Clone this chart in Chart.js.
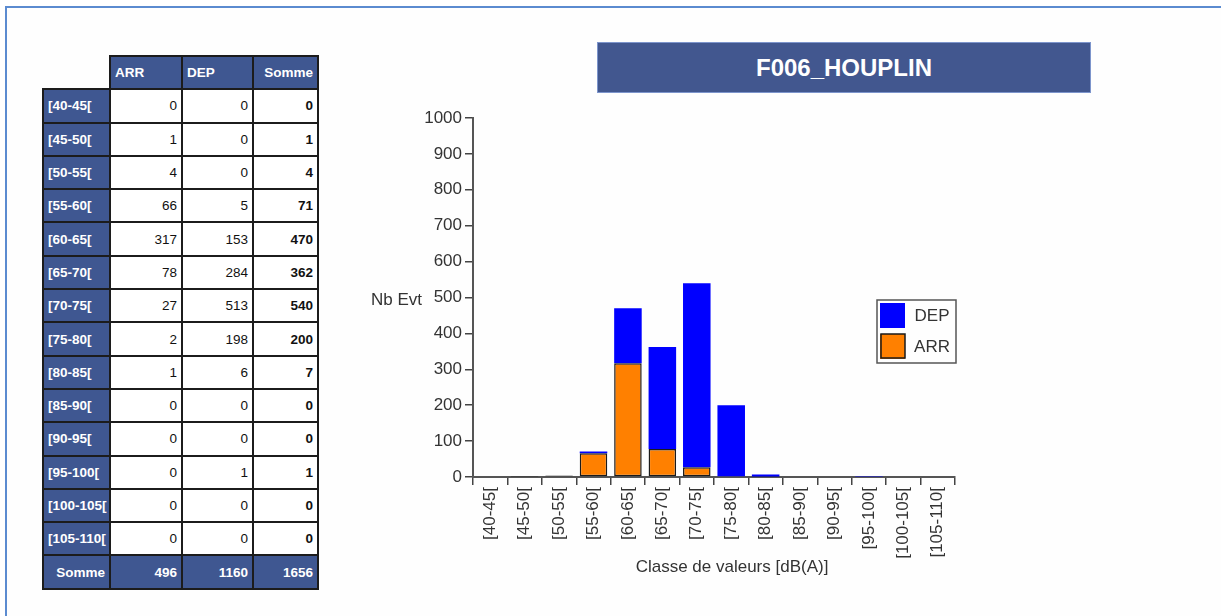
<!DOCTYPE html>
<html>
<head>
<meta charset="utf-8">
<title>F006_HOUPLIN</title>
<script src="https://cdn.jsdelivr.net/npm/chart.js@4/dist/chart.umd.min.js"></script>
<style>
    html, body { margin: 0; padding: 0; width: 1221px; height: 616px; overflow: hidden; background: #fff;
        font-family: 'Liberation Sans', Arial, sans-serif; }
    .frame { position: absolute; left: 5px; top: 6px; width: 1240px; height: 640px;
        border-top: 2px solid #5b8bd0; border-left: 2px solid #5b8bd0; background: #fefefe; }
    #stats { position: absolute; left: 42px; top: 55px; width: 275px;
        border-collapse: collapse; table-layout: fixed; font-size: 13.5px; }
    #stats tr { height: 33.3px; }
    #stats td, #stats th { border: 2px solid #1c1c1c; padding: 0 4px; white-space: nowrap; }
    #stats th { background: #3f5791; color: #fff; font-weight: bold; text-align: left; }
    #stats th.num { text-align: right; }
    #stats td { background: #fff; color: #111; text-align: right; }
    #stats td.sum { font-weight: bold; }
    #stats th.corner { background: transparent; border: none; }
    .title-box { position: absolute; left: 597px; top: 42px; width: 492px; height: 49px;
        background: #42578f; border: 1px solid #7d95cc; color: #fff; font-weight: bold;
        font-size: 24px; text-align: center; line-height: 49px; }
    .chart-wrap { position: absolute; left: 360px; top: 100px; width: 640px; height: 500px; }
</style>
</head>
<body>
<div class="frame"></div>
<table id="stats">
    <colgroup><col style="width:67px"><col style="width:72px"><col style="width:71px"><col style="width:65px"></colgroup>
    <thead><tr><th class="corner"></th><th>ARR</th><th>DEP</th><th class="num">Somme</th></tr></thead>
    <tbody></tbody>
</table>
<div class="title-box">F006_HOUPLIN</div>
<div class="chart-wrap"><canvas id="histo" width="640" height="500"></canvas></div>

<script>
// Classes de bruit et nombre d'evenements par type
const classes = ['[40-45[', '[45-50[', '[50-55[', '[55-60[', '[60-65[', '[65-70[', '[70-75[',
    '[75-80[', '[80-85[', '[85-90[', '[90-95[', '[95-100[', '[100-105[', '[105-110['];
const arr = [0, 1, 4, 66, 317, 78, 27, 2, 1, 0, 0, 0, 0, 0];
const dep = [0, 0, 0, 5, 153, 284, 513, 198, 6, 0, 0, 1, 0, 0];

const xTitle = 'Classe de valeurs [dB(A)]';
const yTitle = 'Nb Evt';

// Remplissage du tableau
let rowsHtml = '';
classes.forEach(function (c, i) {
    rowsHtml += `<tr><th>${c}</th><td>${arr[i]}</td><td>${dep[i]}</td><td class="sum">${arr[i] + dep[i]}</td></tr>`;
});
const totArr = arr.reduce((a, b) => a + b, 0);
const totDep = dep.reduce((a, b) => a + b, 0);
rowsHtml += `<tr><th class="num">Somme</th><th class="num">${totArr}</th><th class="num">${totDep}</th><th class="num">${totArr + totDep}</th></tr>`;
document.querySelector('#stats tbody').innerHTML = rowsHtml;

const FONT = '"Liberation Sans", Arial, sans-serif';

// Titres d'axes et legende encadree
const extras = {
    id: 'extras',
    afterDraw(chart) {
        const ctx = chart.ctx;
        const a = chart.chartArea;
        ctx.save();
        ctx.font = '17px ' + FONT;
        ctx.fillStyle = '#333';
        ctx.textBaseline = 'middle';
        ctx.textAlign = 'left';
        ctx.fillText(yTitle, 11, (a.top + a.bottom) / 2 + 3);
        ctx.textAlign = 'center';
        ctx.fillText(xTitle, (a.left + a.right) / 2 + 18, 467);

        const bw = 79, bh = 63;
        const bx = a.right - bw + 1, by = a.top + 182;
        ctx.strokeStyle = '#555';
        ctx.lineWidth = 1.5;
        ctx.strokeRect(bx, by, bw, bh);
        chart.data.datasets.slice().reverse().forEach(function (d, i) {
            const y = by + 3 + i * 31;
            ctx.fillStyle = d.backgroundColor;
            ctx.fillRect(bx + 3, y, 25, 25);
            if (d.borderWidth) {
                ctx.strokeStyle = d.borderColor;
                ctx.lineWidth = 1.5;
                ctx.strokeRect(bx + 4, y, 24, 24);
            }
            ctx.fillStyle = '#333';
            ctx.textAlign = 'center';
            ctx.fillText(d.label, bx + 55, y + 13);
        });
        ctx.restore();
    }
};

new Chart(document.getElementById('histo'), {
    type: 'bar',
    data: {
        labels: classes,
        datasets: [{
            label: 'ARR',
            data: arr,
            backgroundColor: '#ff8000',
            borderColor: '#1a1a1a',
            borderWidth: 1.5,
            borderSkipped: false
        }, {
            label: 'DEP',
            data: dep,
            backgroundColor: '#0000ff',
            borderWidth: 0
        }]
    },
    options: {
        responsive: false,
        animation: false,
        layout: { padding: { left: 0, top: 18, right: 45, bottom: 0 } },
        datasets: { bar: { categoryPercentage: 1, barPercentage: 0.8 } },
        plugins: { legend: { display: false }, tooltip: { enabled: false } },
        scales: {
            x: {
                stacked: true,
                afterFit: function (scale) { scale.height = 123; },
                grid: { drawOnChartArea: false, drawTicks: true, tickLength: 8, color: '#444', lineWidth: 1.5 },
                border: { color: '#555', width: 2 },
                ticks: { minRotation: 90, maxRotation: 90, padding: 2, color: '#333', font: { family: FONT, size: 17 } }
            },
            y: {
                stacked: true,
                min: 0,
                max: 1000,
                afterFit: function (scale) { scale.width = 113; },
                grid: { drawOnChartArea: false, drawTicks: true, tickLength: 8, color: '#444', lineWidth: 1.5 },
                border: { color: '#555', width: 2 },
                ticks: { stepSize: 100, padding: 3, color: '#333', font: { family: FONT, size: 17 },
                    callback: function (v) { return String(v); } }
            }
        }
    },
    plugins: [extras]
});
</script>
</body>
</html>
